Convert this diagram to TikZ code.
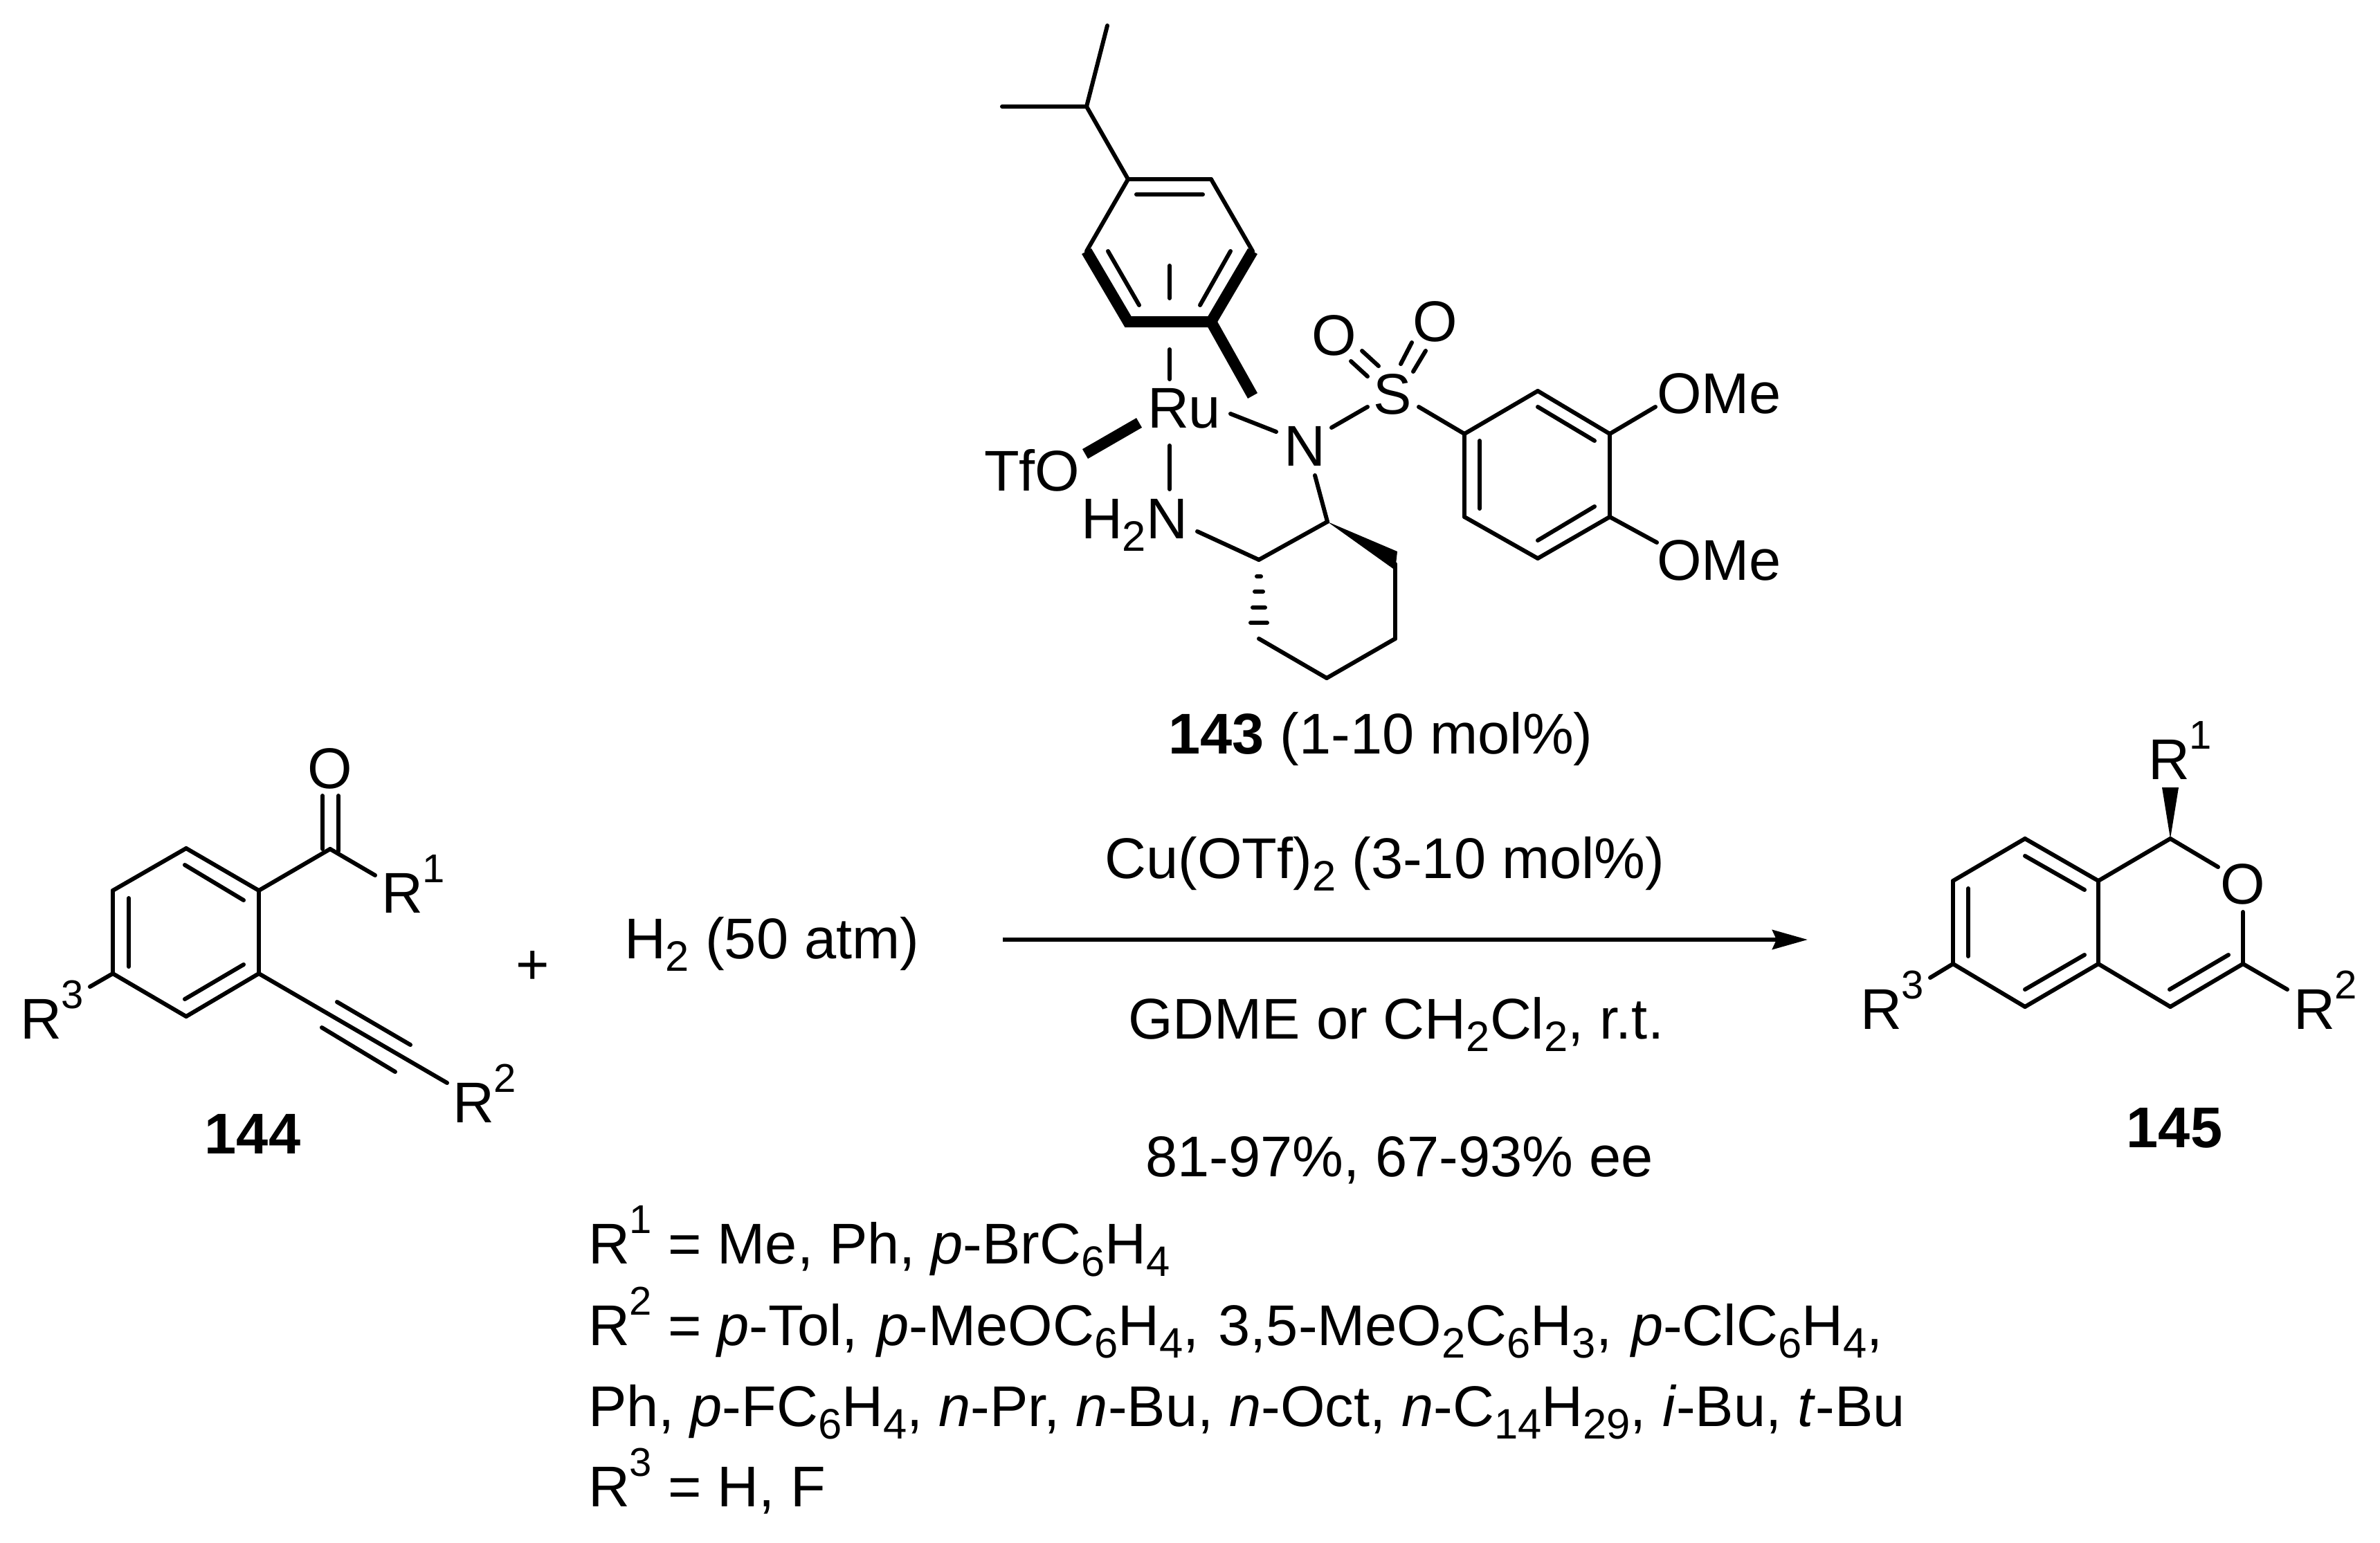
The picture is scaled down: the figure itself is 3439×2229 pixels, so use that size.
\documentclass[tikz,border=0pt]{standalone}
\usepackage{fontspec}
\setmainfont{Liberation Sans}
\usetikzlibrary{arrows.meta}
\newcommand{\lowidx}[1]{\raisebox{-0.22em}{\fontsize{17.5}{17.5}\selectfont #1}}
\newcommand{\upidx}[1]{\raisebox{0.52em}{\fontsize{16.5}{16.5}\selectfont #1}}
\tikzset{
    bond/.style={line width=0.06cm,line cap=round},
    heavybond/.style={line width=0.16cm},
    label/.style={inner sep=0pt,outer sep=0pt,font=\fontsize{23.6}{28}\selectfont,anchor=base west},
    centerlabel/.style={label,anchor=base},
    compound/.style={centerlabel,font=\fontsize{23.6}{28}\selectfont\bfseries}
}

\begin{document}
\begin{tikzpicture}[x=0.01cm,y=-0.01cm]
    \useasboundingbox (0,0) rectangle (3439,2229);
    \fill[white] (0,0) rectangle (3439,2229);

    \foreach \a/\x/\y in {
        me1/1600/37, me2/1448/154, ch/1570/154,
        cy1/1630/259, cy2/1750/259, cy3/1810/363, cy4/1750/465, cy5/1630/465, cy6/1570/363,
        cyi1/1642/281, cyi2/1738/281, cyi3/1601/363, cyi4/1646/441, cyi5/1778/363, cyi6/1734/441,
        eta1/1690/384, eta2/1690/431, eta3/1690/505, eta4/1690/548, cyx/1810/572,
        ru1/1778/598, n1/1844/624, n2/1924/618, s1/1976/588,
        ol1/1968/507, ol2/1992/529, ol3/1952/522, ol4/1976/544,
        or1/2040/495, or2/2024/526, or3/2060/507, or4/2042/537,
        s2/2050/588,
        ar1/2116/627, ar2/2222/565, ar3/2326/627, ar4/2326/747, ar5/2222/807, ar6/2116/747,
        ari1/2138/637, ari2/2138/735, ari3/2222/588, ari4/2304/637, ari5/2304/732, ari6/2222/781,
        ome1/2392/588, ome2/2394/784,
        tf1/1568/656, tf2/1646/611, ru2/1690/644, nh1/1690/707,
        n3/1900/687, hx1/1918/754, nh2/1730/768, hx2/1819/809,
        w1/2019/797, w2/2016/824,
        hx3/2016/815, hx4/2016/923, hx5/1917/980, hx6/1819/923,
        a1/163/1287, a2/269/1226, a3/374/1287, a4/374/1407, a5/269/1469, a6/163/1407,
        ai1/186/1298, ai2/186/1397, ai3/267/1250, ai4/352/1301, ai5/352/1394, ai6/267/1444,
        co/477/1227, co1/466/1150, co2/466/1227, co3/489/1150, co4/489/1230, ar1x/542/1265,
        ar3x/130/1426, yn/646/1565, yn1/487/1448, yn2/593/1510, yn3/465/1485, yn4/571/1549,
        b1/2822/1273, b2/2926/1212, b3/3032/1273, b4/3032/1393, b5/2926/1455, b6/2822/1393,
        bi1/2844/1284, bi2/2844/1382, bi3/2926/1237, bi4/3012/1286, bi5/3012/1380, bi6/2926/1430,
        p1/3136/1212, po1/3205/1253, po2/3241/1318, p3/3241/1393, p4/3136/1455,
        pi1/3220/1380, pi2/3135/1430, pr2/3305/1430, pr3/2789/1413,
        pw1/3124/1138, pw2/3148/1138,
        arr1/1449/1358, arr2/2612/1358}
        \coordinate (\a) at (\x,\y);

    \foreach \a/\b in {
        me1/ch, me2/ch, ch/cy1, cy6/cy1, cy1/cy2, cy2/cy3, cyi1/cyi2, cyi3/cyi4, cyi5/cyi6,
        eta1/eta2, eta3/eta4, ru1/n1, n2/s1, ol1/ol2, ol3/ol4, or1/or2, or3/or4, s2/ar1,
        ar1/ar2, ar2/ar3, ar3/ar4, ar4/ar5, ar5/ar6, ar6/ar1, ari1/ari2, ari3/ari4, ari5/ari6,
        ar3/ome1, ar4/ome2, ru2/nh1, n3/hx1, nh2/hx2, hx2/hx1, hx3/hx4, hx4/hx5, hx5/hx6,
        a1/a2, a2/a3, a3/a4, a4/a5, a5/a6, a6/a1, ai1/ai2, ai3/ai4, ai5/ai6,
        a3/co, co/ar1x, co1/co2, co3/co4, a6/ar3x, a4/yn, yn1/yn2, yn3/yn4,
        b1/b2, b2/b3, b3/b4, b4/b5, b5/b6, b6/b1, bi1/bi2, bi3/bi4, bi5/bi6,
        b3/p1, p1/po1, po2/p3, p3/p4, p4/b4, pi1/pi2, p3/pr2, b6/pr3}
        \draw[bond] (\a) -- (\b);

    \draw[heavybond,line join=miter] (cy6) -- (cy5) -- (cy4) -- (cy3);
    \draw[heavybond] (cy4) -- (cyx);
    \draw[heavybond] (tf1) -- (tf2);
    \fill (hx1) -- (w1) -- (w2) -- cycle;
    \fill (p1) -- (pw1) -- (pw2) -- cycle;
    \foreach \y/\w in {833/3, 855/6, 878/9, 900/12}
        \draw[bond] (1819-\w,\y) -- (1819+\w,\y);

    \draw[line width=0.06cm,-{Stealth[length=0.51cm,width=0.28cm,inset=0.06cm]}] (arr1) -- (arr2);

    \node (ru)   [label] at (1658,618) {Ru};
    \node (nsul) [centerlabel] at (1885,673) {N};
    \node (sul)  [centerlabel] at (2012,598) {S};
    \node (oxa)  [centerlabel] at (1928,513) {O};
    \node (oxb)  [centerlabel] at (2074,493) {O};
    \node (tfo)  [label] at (1422,709) {TfO};
    \node (hhn)  [label] at (1562,778) {H\lowidx{2}N};
    \node (omea) [label] at (2394,597) {OMe};
    \node (omeb) [label] at (2394,838) {OMe};

    \node (oket) [centerlabel] at (477,1139) {O};
    \node (ra1)  [label] at (551,1319) {R\upidx{1}};
    \node (ra3)  [label] at (29,1501) {R\upidx{3}};
    \node (ra2)  [label] at (654,1622) {R\upidx{2}};
    \node (c144) [compound] at (365,1667) {144};
    \node (plus) [centerlabel] at (770,1422) {+};

    \node (oring) [centerlabel] at (3241,1306) {O};
    \node (rb1)  [label] at (3104,1126) {R\upidx{1}};
    \node (rb3)  [label] at (2688,1487) {R\upidx{3}};
    \node (rb2)  [label] at (3314,1487) {R\upidx{2}};
    \node (c145) [compound] at (3142,1658) {145};

    \node (cat)  [centerlabel] at (1995,1089) {\textbf{143} (1-10 mol\%)};
    \node (cu)   [centerlabel] at (2001,1269) {Cu(OTf)\lowidx{2} (3-10 mol\%)};
    \node (hyd)  [label] at (902,1385) {H\lowidx{2} (50 atm)};
    \node (solv) [centerlabel] at (2017,1501) {GDME or CH\lowidx{2}Cl\lowidx{2}, r.t.};
    \node (yld)  [centerlabel] at (2022,1700) {81-97\%, 67-93\% ee};

    \node (lst1) [label] at (850,1826) {R\upidx{1} = Me, Ph, \textit{p}-BrC\lowidx{6}H\lowidx{4}};
    \node (lst2) [label] at (850,1944) {R\upidx{2} = \textit{p}-Tol,\hspace{1.4pt} \textit{p}-MeOC\lowidx{6}H\lowidx{4},\hspace{1.4pt} 3,5-MeO\lowidx{2}C\lowidx{6}H\lowidx{3},\hspace{1.4pt} \textit{p}-ClC\lowidx{6}H\lowidx{4},};
    \node (lst3) [label] at (850,2061) {Ph, \textit{p}-FC\lowidx{6}H\lowidx{4}, \textit{n}-Pr, \textit{n}-Bu, \textit{n}-Oct, \textit{n}-C\lowidx{14}H\lowidx{29}, \textit{i}-Bu, \textit{t}-Bu};
    \node (lst4) [label] at (850,2177) {R\upidx{3} = H, F};
\end{tikzpicture}
\end{document}
